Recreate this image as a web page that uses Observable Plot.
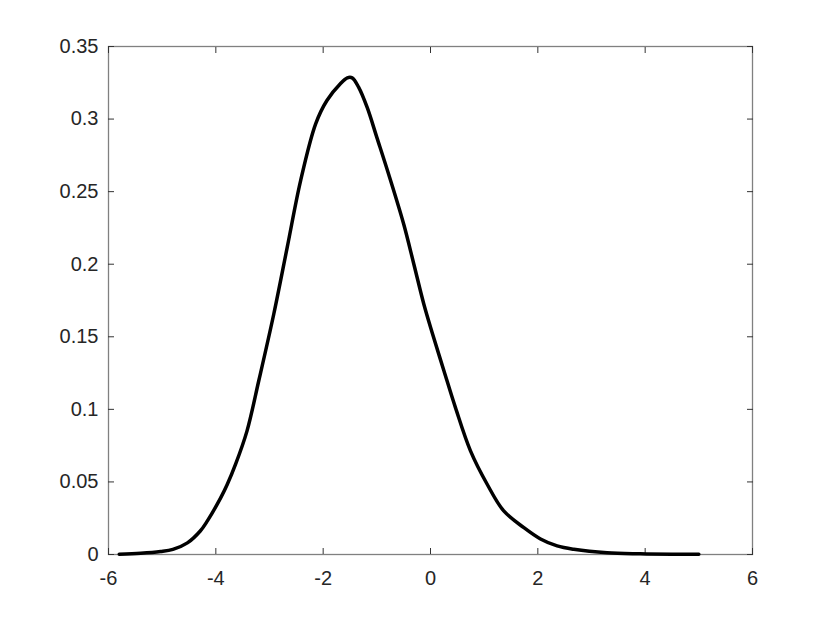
<!DOCTYPE html>
<html>
<head>
<meta charset="utf-8">
<script src="https://cdn.jsdelivr.net/npm/d3@7"></script>
<script src="https://cdn.jsdelivr.net/npm/@observablehq/plot@0.6"></script>
<style>
  html, body { margin: 0; padding: 0; background: white; }
  #chart svg { display: block; }
</style>
</head>
<body>
<div id="chart"></div>
<script>
const xValues = [-5.8, -5.4, -5.03, -4.8, -4.53, -4.29, -4.16, -3.91, -3.79, -3.63, -3.42, -3.2, -2.92, -2.67, -2.42, -2.14, -1.93, -1.68, -1.55, -1.46, -1.34, -1.18, -1.0, -0.78, -0.5, -0.31, -0.125, 0.03, 0.25, 0.465, 0.745, 1.056, 1.365, 1.74, 2.05, 2.36, 2.67, 3.29, 3.91, 4.5, 5.0];
const yValues = [0.0002, 0.0008, 0.002, 0.0035, 0.008, 0.0162, 0.023, 0.039, 0.048, 0.0624, 0.085, 0.1197, 0.1657, 0.2116, 0.2576, 0.2967, 0.3128, 0.3243, 0.3284, 0.3284, 0.322, 0.308, 0.2874, 0.262, 0.2277, 0.2, 0.1726, 0.153, 0.1266, 0.1012, 0.0714, 0.0484, 0.03, 0.0185, 0.0107, 0.0059, 0.0036, 0.0012, 0.0005, 0.0002, 0.0001];
const xTicks = [-6, -4, -2, 0, 2, 4, 6];
const yTicks = [0, 0.05, 0.1, 0.15, 0.2, 0.25, 0.3, 0.35];
const yTickLabels = ["0", "0.05", "0.1", "0.15", "0.2", "0.25", "0.3", "0.35"];

const data = xValues.map((x, i) => ({x, y: yValues[i]}));
const fmtY = d => yTickLabels[yTicks.indexOf(d)] ?? String(d);
const tickColor = "#333333";
const font = "Liberation Sans, Arial, Helvetica, sans-serif";

const chart = Plot.plot({
  width: 830,
  height: 623,
  marginLeft: 108,
  marginRight: 78,
  marginTop: 46,
  marginBottom: 69,
  x: {domain: [-6, 6]},
  y: {domain: [0, 0.35]},
  style: {fontFamily: font, fontSize: "20px", color: "#262626", background: "white"},
  marks: [
    Plot.frame({stroke: "#808080", strokeWidth: 1.3}),
    // inward tick marks
    Plot.axisX(xTicks, {anchor: "bottom", label: null, tickSize: 6, dy: -6, tickFormat: () => "", stroke: tickColor}),
    Plot.axisX(xTicks, {anchor: "top", label: null, tickSize: 6, dy: 6, tickFormat: () => "", stroke: tickColor}),
    Plot.axisY(yTicks, {anchor: "left", label: null, tickSize: 6, dx: 6, tickFormat: () => "", stroke: tickColor}),
    Plot.axisY(yTicks, {anchor: "right", label: null, tickSize: 6, dx: -6, tickFormat: () => "", stroke: tickColor}),
    // labels
    Plot.axisX(xTicks, {anchor: "bottom", label: null, tickSize: 0, tickPadding: 16, tickFormat: d => String(d), fontSize: 20, fill: "#262626"}),
    Plot.axisY(yTicks, {anchor: "left", label: null, tickSize: 0, tickPadding: 10, tickFormat: fmtY, fontSize: 20, fill: "#262626"}),
    Plot.line(data, {x: "x", y: "y", stroke: "black", strokeWidth: 3.5, curve: "catmull-rom"})
  ]
});
document.getElementById("chart").appendChild(chart);
</script>
</body>
</html>
